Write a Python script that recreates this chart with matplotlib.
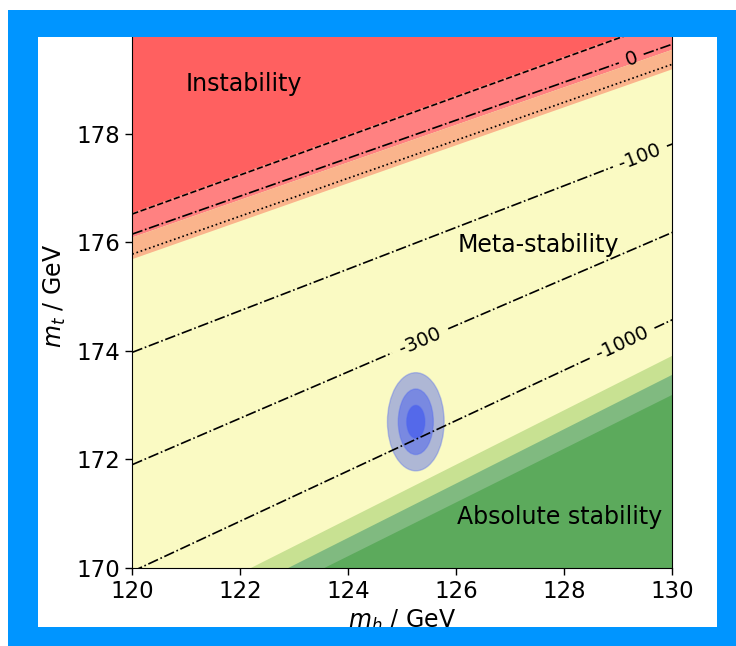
import numpy as np
import matplotlib
matplotlib.use("Agg")
import matplotlib.pyplot as plt
from matplotlib.patches import Ellipse, Rectangle

# ---- data ----
mh_edges = [120.0, 130.0]
# region boundaries (mt at mh=120 and mh=130)
bound_red_pink = [176.55, 180.15]
bound_pink_orange = [176.10, 179.56]
bound_orange_yellow = [175.70, 179.20]
# green band boundaries (start on bottom axis, end at right axis)
green_light_mh = [122.18, 130.0]
green_light_mt = [170.0, 173.92]
green_mid_mh = [122.87, 130.0]
green_mid_mt = [170.0, 173.57]
green_dark_mh = [123.54, 130.0]
green_dark_mt = [170.0, 173.20]
# lines
line_dashed = [176.52, 180.12]
line_dotted = [175.78, 179.28]
contour_levels = ["0", "-100", "-300", "-1000"]
contour_mt = [[176.15, 179.65], [173.97, 177.81], [171.90, 176.18], [169.93, 174.57]]
label_mh = [129.24, 129.40, 125.33, 129.07]
label_gap = [0.23, 0.50, 0.52, 0.60]
# measurement ellipses (1, 2, 3 sigma)
ell_center = (125.25, 172.69)
ell_width = [0.34, 0.65, 1.05]
ell_height = [0.61, 1.21, 1.81]
xticks = [120, 122, 124, 126, 128, 130]
yticks = [170, 172, 174, 176, 178]

W, H = 736, 646
fig = plt.figure(figsize=(W / 100, H / 100), dpi=100, facecolor="white")
ax_l, ax_r, ax_t, ax_b = 132.3, 672.3, 25.2, 567.7
ax = fig.add_axes([ax_l / W, 1 - ax_b / H, (ax_r - ax_l) / W, (ax_b - ax_t) / H])
ax.set_xlim(120, 130)
ax.set_ylim(170, 180)

c_red = "#ff6060"
c_pink = "#ff8181"
c_orange = "#fab48c"
c_yellow = "#fafac3"
c_glight = "#c8e192"
c_gmid = "#80ba80"
c_gdark = "#5caa5c"

ax.set_facecolor(c_yellow)
ax.fill_between(mh_edges, bound_red_pink, [180, 180], color=c_red, lw=0, zorder=1)
ax.fill_between(mh_edges, bound_pink_orange, bound_red_pink, color=c_pink, lw=0, zorder=1)
ax.fill_between(mh_edges, bound_orange_yellow, bound_pink_orange, color=c_orange, lw=0, zorder=1)
ax.fill_between(green_light_mh, [170, 170], green_light_mt, color=c_glight, lw=0, zorder=1)
ax.fill_between(green_mid_mh, [170, 170], green_mid_mt, color=c_gmid, lw=0, zorder=1)
ax.fill_between(green_dark_mh, [170, 170], green_dark_mt, color=c_gdark, lw=0, zorder=1)

lw = 1.2
ax.plot(mh_edges, line_dashed, color="black", ls="--", lw=lw, zorder=4)
ax.plot(mh_edges, line_dotted, color="black", ls=":", lw=lw, zorder=4)

for lev, mt, xl, g in zip(contour_levels, contour_mt, label_mh, label_gap):
    slope = (mt[1] - mt[0]) / (mh_edges[1] - mh_edges[0])
    xa, xb = xl - g, xl + g
    ya, yb, yl = np.interp([xa, xb, xl], mh_edges, mt)
    ax.plot([mh_edges[0], xa], [mt[0], ya], color="black", ls="-.", lw=lw, zorder=4)
    ax.plot([xb, mh_edges[1]], [yb, mt[1]], color="black", ls="-.", lw=lw, zorder=4)
    ang = np.degrees(np.arctan(slope))
    ax.text(xl, yl, lev, fontsize=14, rotation=ang, transform_rotates_text=True,
            rotation_mode="anchor", ha="center", va="center", zorder=5)

for w, h in zip(ell_width[::-1], ell_height[::-1]):
    ax.add_patch(Ellipse(ell_center, w, h, facecolor=(0.0, 0.12, 1.0, 0.3),
                         edgecolor=(0.3, 0.4, 0.95, 0.35), lw=1.0, zorder=3))

ax.text(120.99, 178.79, "Instability", fontsize=17, ha="left", va="baseline", zorder=6)
ax.text(126.03, 175.82, "Meta-stability", fontsize=17, ha="left", va="baseline", zorder=6)
ax.text(126.01, 170.80, "Absolute stability", fontsize=17, ha="left", va="baseline", zorder=6)

ax.set_xticks(xticks)
ax.set_yticks(yticks)
ax.tick_params(labelsize=16.5, length=5, width=1.0)
ax.spines["top"].set_visible(False)
ax.set_xlabel("$m_h$ / GeV", fontsize=17, labelpad=4)
ax.set_ylabel("$m_t$ / GeV", fontsize=17, labelpad=6)

# blue frame on top
blue = "#0095ff"
def band(x0, y0, x1, y1):
    fig.add_artist(Rectangle((x0 / W, 1 - y1 / H), (x1 - x0) / W, (y1 - y0) / H,
                             transform=fig.transFigure, facecolor=blue, edgecolor="none", zorder=20))
band(8, 10, 736, 36.7)
band(8, 626.7, 736, 646)
band(8, 10, 37.5, 646)
band(717, 10, 736, 646)

fig.savefig("out.png", dpi=100, facecolor="white")
